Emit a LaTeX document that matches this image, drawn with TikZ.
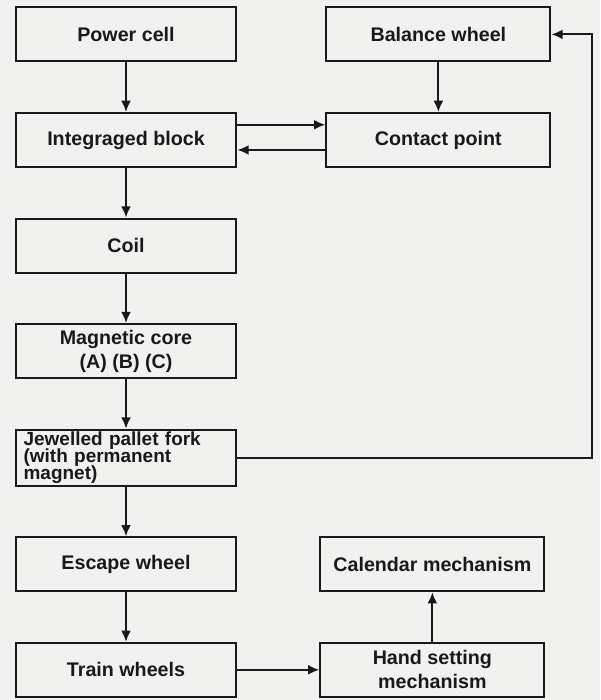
\documentclass[tikz,border=0pt]{standalone}
\usepackage{fontspec}
\setmainfont{Liberation Sans}
\usepackage{tikz}
\usetikzlibrary{positioning, arrows.meta, calc}

\definecolor{paper}{RGB}{241,241,239}
\definecolor{ink}{RGB}{25,25,25}

\begin{document}
\begin{tikzpicture}[
  node distance=1.24cm and 2.2cm,
  box/.style={draw=ink, line width=1.4pt, align=center, minimum width=5.52cm, minimum height=1.35cm,
    inner ysep=1pt, font=\bfseries\fontsize{14}{17}\selectfont, text=ink},
  wide/.style={box, minimum width=5.6cm},
  arrow/.style={-{Latex[length=8pt,width=7pt]}, line width=1.4pt, draw=ink}
]
\fill[paper] (0,0) rectangle (15,-17.5);
\useasboundingbox (0,0) rectangle (15,-17.5);

\node[box] (cell) at (3.15,-0.86) {Power cell};
\node[box, below=of cell] (block) {Integraged block};
\node[box, below=of block] (coil) {Coil};
\node[box, below=of coil] (core) {Magnetic core\\(A) (B) (C)};
\node[box, below=of core, align=left, text width=5.12cm, inner xsep=0.2cm, inner ysep=0pt,
  minimum height=1.4cm, font=\bfseries\fontsize{13.5}{12}\selectfont,
  execute at begin node={\lineskiplimit=-10pt\relax}] (fork)
  {Jewelled pallet fork\\(with permanent\\magnet)};
\node[box, below=of fork] (escape) {Escape wheel};
\node[box, below=of escape] (train) {Train wheels};

\node[wide, right=2.2cm of cell] (balance) {Balance wheel};
\node[wide, below=of balance] (contact) {Contact point};
\node[wide, right=2.05cm of train] (hand) {Hand setting\\mechanism};
\node[wide, above=of hand] (calendar) {Calendar mechanism};

\coordinate (back) at (14.8,0);

\draw[arrow] (cell) -- (block);
\draw[arrow] (block) -- (coil);
\draw[arrow] (coil) -- (core);
\draw[arrow] (core) -- (fork);
\draw[arrow] (fork) -- (escape);
\draw[arrow] (escape) -- (train);
\draw[arrow] (balance) -- (contact);
\draw[arrow] (train) -- (hand);
\draw[arrow] (hand) -- (calendar);

% two wires between block and contact
\draw[arrow] ([yshift=0.38cm]block.east) -- ([yshift=0.38cm]block.east -| contact.west);
\draw[arrow] ([yshift=-0.25cm]block.east -| contact.west) -- ([yshift=-0.25cm]block.east);

% feedback from the pallet fork
\draw[arrow] (fork.east) -- (fork.east -| back) -- (balance.east -| back) -- (balance.east);

\end{tikzpicture}
\end{document}
